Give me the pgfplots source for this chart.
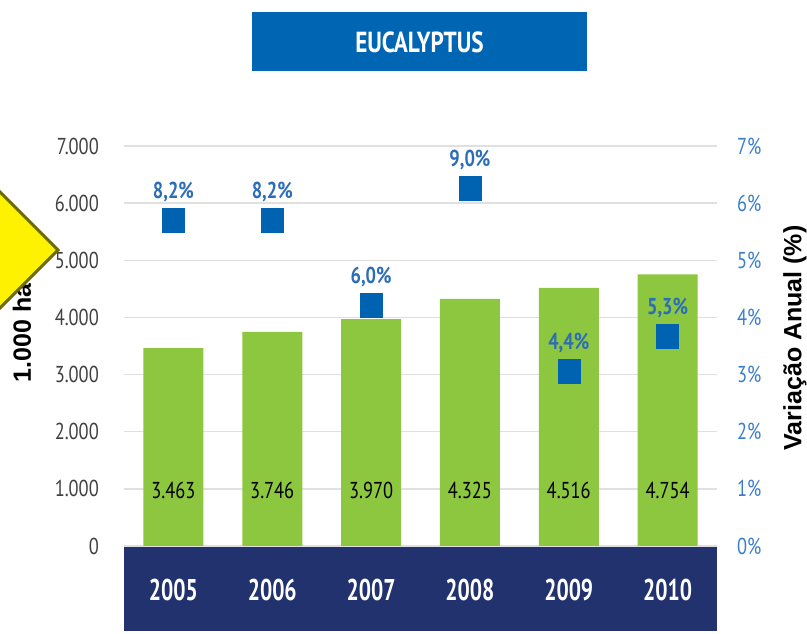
\documentclass[border=0pt]{standalone}
\usepackage{pgfplots}
\pgfplotsset{compat=1.18}
\usepackage{pgfplotstable}
\usepackage{fontspec}
\setmainfont{PT Sans}
\newfontfamily\cond[FakeStretch=0.8]{PT Sans}
\newfontfamily\condy[FakeStretch=0.72]{PT Sans}
\newfontfamily\arialb{Liberation Sans}
\definecolor{barg}{HTML}{8DC63F}
\definecolor{sqblue}{HTML}{0063B1}
\definecolor{titleblue}{HTML}{0066B3}
\definecolor{navy}{HTML}{22326E}
\definecolor{ticklblue}{HTML}{3A7DC9}
\definecolor{pctblue}{HTML}{2C6DB8}
\definecolor{tickgray}{HTML}{404040}
\definecolor{olive}{HTML}{6B6B00}

\pgfplotstableread{
x ha ly lab
0 3463 980 3.463
1 3746 980 3.746
2 3970 980 3.970
3 4325 980 4.325
4 4516 980 4.516
5 4754 980 4.754
}\bars

\pgfplotstableread{
x pos lab
0 5.70 8,2\%
1 5.70 8,2\%
2 4.21 6,0\%
3 6.26 9,0\%
4 3.06 4,4\%
5 3.67 5,3\%
}\vari

\begin{document}
\begin{tikzpicture}[x=1pt,y=1pt]
\useasboundingbox (0,0) rectangle (807,634);
% title box
\fill[titleblue] (252,563) rectangle (587,622);
\node[text=white, font=\cond\bfseries\fontsize{29}{29}\selectfont] at (419.5,592) {EUCALYPTUS};
% year band
\fill[navy] (124,3) rectangle (717,88);

\begin{axis}[
  at={(124pt,88pt)}, anchor=south west, scale only axis,
  width=593pt, height=400pt,
  xmin=-0.5, xmax=5.5, ymin=0, ymax=7000,
  axis y line*=left,
  axis line style={draw=none},
  major tick length=0pt,
  xtick={0,1,2,3,4,5},
  xticklabels={2005,2006,2007,2008,2009,2010},
  xticklabel style={anchor=center, inner sep=0pt, yshift=-44pt, text=white,
    font=\condy\bfseries\fontsize{30}{30}\selectfont},
  ytick={0,1000,2000,3000,4000,5000,6000,7000},
  yticklabels={0,1.000,2.000,3.000,4.000,5.000,6.000,7.000},
  yticklabel style={anchor=east, inner sep=0pt, xshift=-25pt, text=tickgray,
    font=\cond\fontsize{23}{23}\selectfont},
  ymajorgrids, grid style={draw=black!12, line width=1.3pt},
  clip=false,
]
\addplot[ybar, bar width=60pt, bar shift=0pt, fill=barg, draw=none] table[x=x, y=ha] {\bars};
\addplot[draw=none, mark=none, nodes near coords, point meta=explicit symbolic,
  every node near coord/.style={anchor=center, text=black,
    font=\cond\fontsize{23}{23}\selectfont}]
  table[x=x, y=ly, meta=lab] {\bars};
\end{axis}

\begin{axis}[
  at={(124pt,88pt)}, anchor=south west, scale only axis,
  width=593pt, height=400pt,
  xmin=-0.5, xmax=5.5, ymin=0, ymax=7,
  axis y line*=right, axis x line=none,
  axis line style={draw=none},
  major tick length=0pt,
  ytick={0,1,2,3,4,5,6,7},
  yticklabels={0\%,1\%,2\%,3\%,4\%,5\%,6\%,7\%},
  yticklabel style={anchor=west, inner sep=0pt, xshift=20pt, text=ticklblue,
    font=\cond\fontsize{23}{23}\selectfont},
  clip=false,
]
\addplot[only marks, mark=square*, mark size=11pt, color=sqblue,
  mark options={yscale=1.09},
  nodes near coords, point meta=explicit symbolic,
  every node near coord/.style={anchor=center, yshift=28pt, text=pctblue,
    font=\cond\bfseries\fontsize{23}{23}\selectfont}]
  table[x=x, y=pos, meta=lab] {\vari};
\end{axis}

% axis titles
\node[rotate=90, font=\arialb\bfseries\fontsize{25}{25}\selectfont] at (22,301) {1.000 ha};
\node[rotate=90, font=\arialb\bfseries\fontsize{25}{25}\selectfont] at (795,296) {Variação Anual (\%)};
% yellow callout
\draw[fill=yellow, draw=olive, line width=3pt, line join=miter]
  (-20,462) -- (58,384) -- (-20,306) -- cycle;
\end{tikzpicture}
\end{document}
